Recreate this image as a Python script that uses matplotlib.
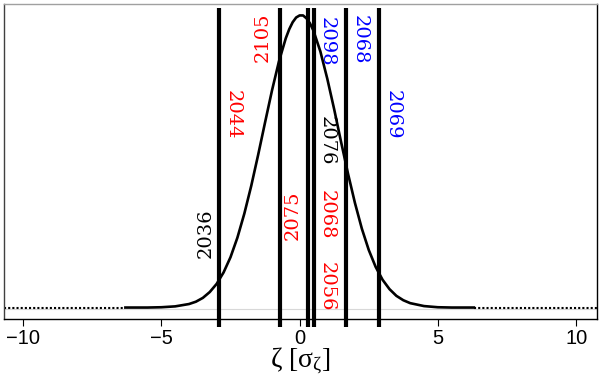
import numpy as np
import matplotlib
matplotlib.use("Agg")
import matplotlib.pyplot as plt

# density curve (peak normalised to 1)
curve_x = [-6.3, -6.0, -5.5, -5.0, -4.5, -4.0, -3.75, -3.5, -3.25, -3.0,
           -2.75, -2.5, -2.25, -2.0, -1.75, -1.5, -1.25, -1.0, -0.75, -0.5,
           -0.375, -0.25, -0.125, 0.0, 0.125, 0.25, 0.375, 0.5, 0.75, 1.0,
           1.25, 1.5, 1.75, 2.0, 2.25, 2.5, 2.75, 3.0, 3.25, 3.5,
           3.75, 4.0, 4.5, 5.0, 5.5, 6.0, 6.3]
curve_y = [0.000, 0.000, 0.000, 0.001, 0.004, 0.012, 0.020, 0.033, 0.053, 0.081,
           0.120, 0.172, 0.239, 0.321, 0.416, 0.522, 0.633, 0.742, 0.841, 0.921,
           0.952, 0.976, 0.992, 0.999, 0.999, 0.989, 0.972, 0.947, 0.876, 0.783,
           0.678, 0.566, 0.458, 0.358, 0.270, 0.197, 0.139, 0.095, 0.063, 0.040,
           0.025, 0.015, 0.005, 0.001, 0.000, 0.000, 0.000]

# vertical markers
line_x = [-2.91, -0.72, 0.32, 0.51, 1.66, 2.86]

# labels: text, x, y, rotation, colour
lab_text = ["2036", "2044", "2105", "2075", "2098", "2076", "2068", "2056", "2068", "2069"]
lab_x = [-3.39, -2.41, -1.33, -0.24, 0.99, 0.99, 0.99, 0.99, 2.18, 3.37]
lab_y = [0.255, 0.658, 0.925, 0.316, 0.908, 0.569, 0.316, 0.070, 0.915, 0.658]
lab_rot = [90, 270, 90, 90, 270, 270, 270, 270, 270, 270]
lab_col = ["black", "red", "red", "red", "blue", "black", "red", "red", "blue", "blue"]

plt.rcParams['mathtext.fontset'] = 'custom'
plt.rcParams['mathtext.rm'] = 'Liberation Serif'
plt.rcParams['mathtext.it'] = 'Liberation Serif'

fig = plt.figure(figsize=(6, 3.78), dpi=100)
ax = fig.add_axes([0.0067, 0.156, 0.989, 0.833])

xmin, xmax = -10.69, 10.77
ax.axhline(-0.004, color='#d8d8d8', lw=0.8, zorder=1)
# dotted baseline only outside the drawn curve
ax.plot([xmin, curve_x[0]], [0, 0], color='black', lw=1.5, ls=(0, (1, 1)), zorder=2)
ax.plot([curve_x[-1], xmax], [0, 0], color='black', lw=1.5, ls=(0, (1, 1)), zorder=2)
ax.plot(curve_x, curve_y, color='black', lw=1.9, zorder=3)

ax.vlines(line_x, -0.0667, 1.024, colors='black', lw=3, clip_on=False, zorder=4)

for t, x, y, r, c in zip(lab_text, lab_x, lab_y, lab_rot, lab_col):
    ax.text(x, y, t, rotation=r, color=c, ha='center', va='center',
            fontsize=14, family='DejaVu Serif', zorder=5)

ax.set_xlim(xmin, xmax)
ax.set_ylim(-0.0393, 1.0376)
ax.set_yticks([])
ax.set_xticks([-10, -5, 0, 5, 10])
ax.set_xticklabels(['\u221210', '\u22125', '0', '5', '10'], family='Liberation Sans', fontsize=14.5)
ax.tick_params(axis='x', length=5, width=0.8, pad=2)
ax.set_xlabel(r'$\zeta\ [\sigma_\zeta]$', fontsize=20, labelpad=-1)

ax.spines['top'].set_color('#a0a0a0')
ax.spines['left'].set_color('#404040')
for s in ax.spines.values():
    s.set_linewidth(1)

fig.savefig('out.png', dpi=100)
